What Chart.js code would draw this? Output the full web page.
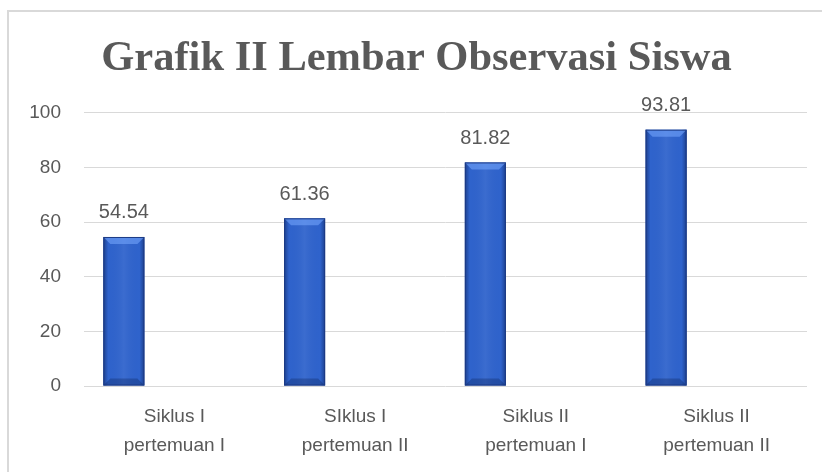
<!DOCTYPE html>
<html>
<head>
<meta charset="utf-8">
<script src="https://cdn.jsdelivr.net/npm/chart.js@4"></script>
<style>
  html, body { margin: 0; padding: 0; background: #fff; }
  #wrap { position: relative; width: 822px; height: 472px; overflow: hidden; }
  #frame { position: absolute; left: 7px; top: 10px; width: 900px; height: 600px;
           border-left: 2px solid #D9D9D9; border-top: 2px solid #D9D9D9; }
  canvas { position: absolute; left: 0; top: 0; }
</style>
</head>
<body>
<div id="wrap">
  <div id="frame"></div>
  <canvas id="chart" width="822" height="472"></canvas>
</div>
<script>
// data
var categories = [
    ['Siklus I', 'pertemuan I'],
    ['SIklus I', 'pertemuan II'],
    ['Siklus II', 'pertemuan I'],
    ['Siklus II', 'pertemuan II']
];
var nilaiSiswa = [54.54, 61.36, 81.82, 93.81];
var seriesKosong = [null, null, null, null];   // second (empty) series from the original sheet
var yTicks = [0, 20, 40, 60, 80, 100];

var textColor = '#595959';
var sansFont = "'Liberation Sans', Arial, sans-serif";

// bevel look for the bars
var bevelPlugin = {
    id: 'bevel',
    afterDatasetsDraw: function(chart) {
        var ctx = chart.ctx;
        var meta = chart.getDatasetMeta(0);
        meta.data.forEach(function(bar) {
            var l = bar.x - bar.width / 2, r = bar.x + bar.width / 2;
            var t = bar.y, b = bar.base, w = bar.width;
            var bv = 7;
            ctx.save();
            // sides darker
            var g = ctx.createLinearGradient(l, 0, r, 0);
            g.addColorStop(0, 'rgba(15,35,90,0.55)');
            g.addColorStop(0.12, 'rgba(15,35,90,0.0)');
            g.addColorStop(0.5, 'rgba(255,255,255,0.06)');
            g.addColorStop(0.88, 'rgba(15,35,90,0.0)');
            g.addColorStop(1, 'rgba(15,35,90,0.55)');
            ctx.fillStyle = g;
            ctx.fillRect(l, t, w, b - t);
            // top bevel
            ctx.beginPath();
            ctx.moveTo(l, t);
            ctx.lineTo(r, t);
            ctx.lineTo(r - bv, t + bv);
            ctx.lineTo(l + bv, t + bv);
            ctx.closePath();
            ctx.fillStyle = 'rgba(120,170,255,0.55)';
            ctx.fill();
            // bottom bevel
            ctx.beginPath();
            ctx.moveTo(l, b);
            ctx.lineTo(r, b);
            ctx.lineTo(r - bv, b - bv);
            ctx.lineTo(l + bv, b - bv);
            ctx.closePath();
            ctx.fillStyle = 'rgba(10,30,80,0.30)';
            ctx.fill();
            ctx.strokeStyle = '#1C3A84';
            ctx.lineWidth = 1;
            ctx.strokeRect(l + 0.5, t + 0.5, w - 1, b - t - 1);
            ctx.restore();
        });
    }
};

// value labels above the bars
var labelPlugin = {
    id: 'valueLabels',
    afterDatasetsDraw: function(chart) {
        var ctx = chart.ctx;
        var meta = chart.getDatasetMeta(0);
        ctx.save();
        ctx.font = '20px ' + sansFont;
        ctx.fillStyle = textColor;
        ctx.textAlign = 'center';
        ctx.textBaseline = 'middle';
        meta.data.forEach(function(bar, i) {
            ctx.fillText(String(nilaiSiswa[i]), bar.x, bar.y - 24);
        });
        ctx.restore();
    }
};

var ctx = document.getElementById('chart').getContext('2d');
var chart = new Chart(ctx, {
    type: 'bar',
    data: {
        labels: categories,
        datasets: [{
            label: 'Nilai',
            data: nilaiSiswa,
            backgroundColor: '#2F63CC',
            borderWidth: 0
        }, {
            label: 'Kosong',
            data: seriesKosong,
            backgroundColor: 'rgba(0,0,0,0)'
        }]
    },
    options: {
        responsive: false,
        animation: false,
        categoryPercentage: 1.118,
        barPercentage: 0.406,
        layout: { padding: { left: 26, right: 15, top: 0, bottom: 0 } },
        plugins: {
            legend: { display: false },
            tooltip: { enabled: false },
            title: {
                display: true,
                text: 'Grafik II Lembar Observasi Siswa',
                color: textColor,
                font: { family: "'Liberation Serif', 'Times New Roman', serif", size: 42.5, weight: 'bold', lineHeight: 1.1 },
                padding: { top: 36, bottom: 30 }
            }
        },
        scales: {
            x: {
                grid: { display: false, drawTicks: false },
                border: { display: false },
                ticks: {
                    color: textColor,
                    font: { family: sansFont, size: 19, lineHeight: 1.55 },
                    padding: 16,
                    maxRotation: 0
                },
                afterFit: function(axis) { axis.height = 86; }
            },
            y: {
                min: 0,
                max: 100,
                afterBuildTicks: function(axis) {
                    axis.ticks = yTicks.map(function(v) { return { value: v }; });
                },
                grid: { color: '#D9D9D9', lineWidth: 1, drawTicks: false },
                border: { display: false },
                ticks: {
                    color: textColor,
                    font: { family: sansFont, size: 19 },
                    padding: 23
                },
                afterFit: function(axis) { axis.width = 58; }
            }
        }
    },
    plugins: [bevelPlugin, labelPlugin]
});
</script>
</body>
</html>
